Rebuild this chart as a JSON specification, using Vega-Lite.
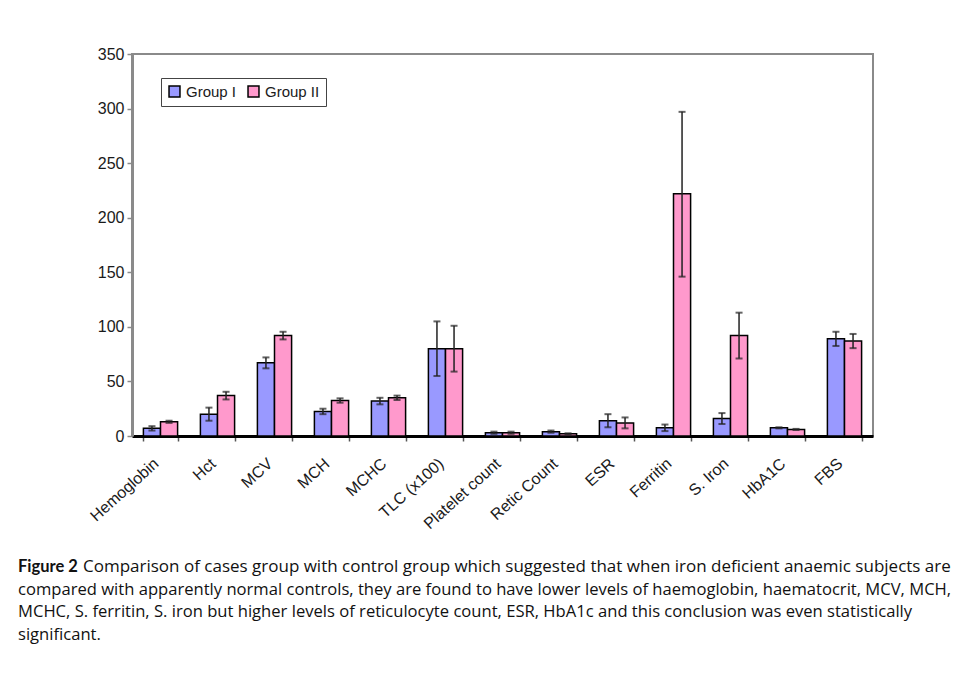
{
  "$schema": "https://vega.github.io/schema/vega-lite/v6.json",
  "background": "white",
  "padding": {"left": 18, "top": 45, "right": 5, "bottom": 12},
  "spacing": 25,
  "datasets": {
    "bars": [
      {"param": "Hemoglobin", "group": "Group I", "value": 7, "lo": 5, "hi": 9},
      {"param": "Hemoglobin", "group": "Group II", "value": 13, "lo": 12, "hi": 14},
      {"param": "Hct", "group": "Group I", "value": 20, "lo": 14, "hi": 26},
      {"param": "Hct", "group": "Group II", "value": 37, "lo": 33.5, "hi": 40.5},
      {"param": "MCV", "group": "Group I", "value": 67, "lo": 62, "hi": 72},
      {"param": "MCV", "group": "Group II", "value": 92, "lo": 88.5, "hi": 95.5},
      {"param": "MCH", "group": "Group I", "value": 22.5, "lo": 20, "hi": 25},
      {"param": "MCH", "group": "Group II", "value": 32.5, "lo": 30.5, "hi": 34.5},
      {"param": "MCHC", "group": "Group I", "value": 32, "lo": 29, "hi": 35},
      {"param": "MCHC", "group": "Group II", "value": 35, "lo": 33, "hi": 37},
      {"param": "TLC (x100)", "group": "Group I", "value": 80, "lo": 55, "hi": 105},
      {"param": "TLC (x100)", "group": "Group II", "value": 80, "lo": 59, "hi": 101},
      {"param": "Platelet count", "group": "Group I", "value": 3, "lo": 2, "hi": 4},
      {"param": "Platelet count", "group": "Group II", "value": 3, "lo": 2, "hi": 4},
      {"param": "Retic Count", "group": "Group I", "value": 4, "lo": 3, "hi": 5},
      {"param": "Retic Count", "group": "Group II", "value": 2, "lo": 1.5, "hi": 2.5},
      {"param": "ESR", "group": "Group I", "value": 14, "lo": 8, "hi": 20},
      {"param": "ESR", "group": "Group II", "value": 12, "lo": 7, "hi": 17},
      {"param": "Ferritin", "group": "Group I", "value": 7.5, "lo": 4.5, "hi": 10.5},
      {"param": "Ferritin", "group": "Group II", "value": 222, "lo": 146, "hi": 297},
      {"param": "S. Iron", "group": "Group I", "value": 16, "lo": 11, "hi": 21},
      {"param": "S. Iron", "group": "Group II", "value": 92, "lo": 71, "hi": 113},
      {"param": "HbA1C", "group": "Group I", "value": 7.5, "lo": 7, "hi": 8},
      {"param": "HbA1C", "group": "Group II", "value": 6, "lo": 5.5, "hi": 6.5},
      {"param": "FBS", "group": "Group I", "value": 89, "lo": 82.5, "hi": 95.5},
      {"param": "FBS", "group": "Group II", "value": 87, "lo": 80.5, "hi": 93.5}
    ],
    "caption": [
      {"part": "bold", "line": 1, "text": "Figure 2"},
      {"part": "first", "line": 1, "text": "Comparison of cases group with control group which suggested that when iron deficient anaemic subjects are"},
      {"part": "rest", "line": 2, "text": "compared with apparently normal controls, they are found to have lower levels of haemoglobin, haematocrit, MCV, MCH,"},
      {"part": "rest", "line": 3, "text": "MCHC, S. ferritin, S. iron but higher levels of reticulocyte count, ESR, HbA1c and this conclusion was even statistically"},
      {"part": "rest", "line": 4, "text": "significant."}
    ]
  },
  "config": {
    "view": {"stroke": null},
    "axisY": {
      "domainColor": "#8a8a8a", "domainWidth": 3,
      "tickColor": "#8a8a8a", "tickSize": 5, "tickWidth": 1.5,
      "labelFont": "Liberation Sans", "labelFontSize": 16, "labelColor": "#1a1a1a",
      "labelPadding": 3, "grid": false, "minExtent": 113
    },
    "axisX": {
      "domainColor": "#000000", "domainWidth": 3,
      "tickColor": "#555555", "tickSize": 5, "tickWidth": 1.5, "tickBand": "extent",
      "labelFont": "Liberation Sans", "labelFontSize": 16, "labelColor": "#1a1a1a",
      "labelAngle": -42, "labelAlign": "right", "labelBaseline": "top", "labelPadding": 14,
      "labelOffset": -10, "grid": false
    }
  },
  "vconcat": [
    {
      "width": 741,
      "height": 382,
      "view": {"stroke": "#8a8a8a", "strokeWidth": 2},
      "data": {"name": "bars"},
      "encoding": {
        "x": {
          "field": "param", "type": "nominal", "sort": null, "title": null,
          "scale": {"paddingInner": 0.4, "paddingOuter": 0.2}
        },
        "xOffset": {"field": "group", "type": "nominal", "sort": ["Group I", "Group II"]}
      },
      "layer": [
        {
          "mark": {"type": "bar", "stroke": "#000000", "strokeWidth": 1.5},
          "encoding": {
            "y": {
              "field": "value", "type": "quantitative", "title": null,
              "scale": {"domain": [0, 350], "nice": false},
              "axis": {"values": [0, 50, 100, 150, 200, 250, 300, 350]}
            },
            "color": {
              "field": "group", "type": "nominal",
              "scale": {"domain": ["Group I", "Group II"], "range": ["#9999ff", "#ff99cc"]},
              "legend": {
                "orient": "none", "legendX": 29, "legendY": 24,
                "direction": "horizontal", "title": null,
                "strokeColor": "#444444", "fillColor": "#ffffff", "padding": 6,
                "symbolType": "square", "symbolSize": 120,
                "symbolStrokeColor": "#000000", "symbolStrokeWidth": 1.5,
                "labelFont": "Liberation Sans", "labelFontSize": 15, "labelColor": "#1a1a1a",
                "columnPadding": 8
              }
            }
          }
        },
        {
          "mark": {"type": "rule", "color": "#222222", "strokeWidth": 1.5},
          "encoding": {
            "y": {"field": "lo", "type": "quantitative", "title": null},
            "y2": {"field": "hi"}
          }
        },
        {
          "mark": {"type": "tick", "color": "#222222", "thickness": 2, "size": 7, "orient": "horizontal"},
          "encoding": {"y": {"field": "hi", "type": "quantitative", "title": null}}
        },
        {
          "mark": {"type": "tick", "color": "#222222", "thickness": 2, "size": 7, "orient": "horizontal"},
          "encoding": {"y": {"field": "lo", "type": "quantitative", "title": null}}
        }
      ]
    },
    {
      "width": 741,
      "height": 68,
      "view": {"stroke": null},
      "data": {"name": "caption"},
      "encoding": {
        "y": {"field": "line", "type": "ordinal", "axis": null, "scale": {"type": "point", "padding": 0}},
        "x": {"value": 0},
        "text": {"field": "text"}
      },
      "layer": [
        {
          "transform": [{"filter": "datum.part === 'bold'"}],
          "mark": {"type": "text", "align": "left", "baseline": "middle", "font": "Lato", "fontSize": 16.5, "fontWeight": "bold", "color": "#111111", "dx": -114}
        },
        {
          "transform": [{"filter": "datum.part === 'first'"}],
          "mark": {"type": "text", "align": "left", "baseline": "middle", "font": "Open Sans", "fontSize": 17, "color": "#111111", "dx": -49}
        },
        {
          "transform": [{"filter": "datum.part === 'rest'"}],
          "mark": {"type": "text", "align": "left", "baseline": "middle", "font": "Open Sans", "fontSize": 16.6, "color": "#111111", "dx": -114}
        }
      ]
    }
  ]
}
